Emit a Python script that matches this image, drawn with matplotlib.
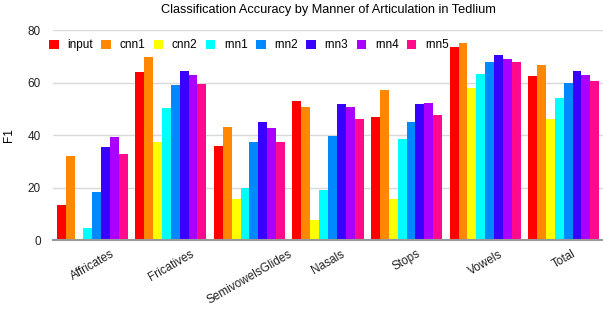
import numpy as np
import matplotlib
matplotlib.use("Agg")
import matplotlib.pyplot as plt

categories = ["Affricates", "Fricatives", "SemivowelsGlides", "Nasals",
              "Stops", "Vowels", "Total"]
series_names = ["input", "cnn1", "cnn2", "rnn1", "rnn2", "rnn3", "rnn4", "rnn5"]

input_vals = [13.2, 64.0, 36.0, 52.8, 47.0, 73.6, 62.5]
cnn1_vals = [32.1, 69.6, 43.0, 50.8, 57.0, 75.2, 66.8]
cnn2_vals = [0.0, 37.2, 15.8, 7.6, 15.7, 58.0, 46.2]
rnn1_vals = [4.5, 50.4, 20.0, 19.0, 38.6, 63.2, 54.0]
rnn2_vals = [18.1, 59.0, 37.2, 39.6, 44.9, 67.8, 59.8]
rnn3_vals = [35.6, 64.3, 44.9, 52.0, 51.8, 70.4, 64.2]
rnn4_vals = [39.2, 62.9, 42.8, 50.8, 52.1, 69.0, 62.8]
rnn5_vals = [32.6, 59.5, 37.2, 46.0, 47.5, 67.8, 60.5]

series_vals = [input_vals, cnn1_vals, cnn2_vals, rnn1_vals,
               rnn2_vals, rnn3_vals, rnn4_vals, rnn5_vals]
colors = ["#ff0000", "#ff8800", "#ffff00", "#00ffff",
          "#0088ff", "#3a00ff", "#aa00ff", "#ff0a8c"]

plt.rcParams["font.family"] = ["Liberation Sans", "DejaVu Sans"]

fig = plt.figure(figsize=(6.03, 3.09), dpi=100)
ax = fig.add_axes([0.0879, 0.2233, 0.9121, 0.6796])

x = np.arange(len(categories))
width = 0.113
for i, (name, vals, col) in enumerate(zip(series_names, series_vals, colors)):
    offset = (i - 3.5) * width
    ax.bar(x + offset, vals, width, color=col, label=name, zorder=2)

ax.set_xlim(-0.5, 6.5)
ax.set_ylim(0, 80)
ax.set_yticks([0, 20, 40, 60, 80])
ax.yaxis.grid(True, color="#d9d9d9", linewidth=1, zorder=0)
ax.set_axisbelow(True)
for s in ["top", "right", "left"]:
    ax.spines[s].set_visible(False)
ax.spines["bottom"].set_color("#999999")
ax.spines["bottom"].set_linewidth(1.5)
ax.tick_params(axis="both", length=0, labelsize=8.5, colors="#222222")
ax.tick_params(axis="y", pad=8.6)
ax.tick_params(axis="x", pad=5.8)

ax.set_xticks(x)
ax.set_xticklabels(categories, rotation=30, ha="center")

ax.set_ylabel("F1", fontsize=8.5, labelpad=9)
ax.set_title("Classification Accuracy by Manner of Articulation in Tedlium",
             fontsize=9.2, pad=12)

leg = ax.legend(loc="upper left", ncol=8, frameon=False, fontsize=8.5,
                bbox_to_anchor=(-0.007, 0.955), handlelength=0.8,
                handleheight=0.8, handletextpad=0.75, columnspacing=0.7,
                borderaxespad=0, borderpad=0)

fig.savefig("out.png", dpi=100)
